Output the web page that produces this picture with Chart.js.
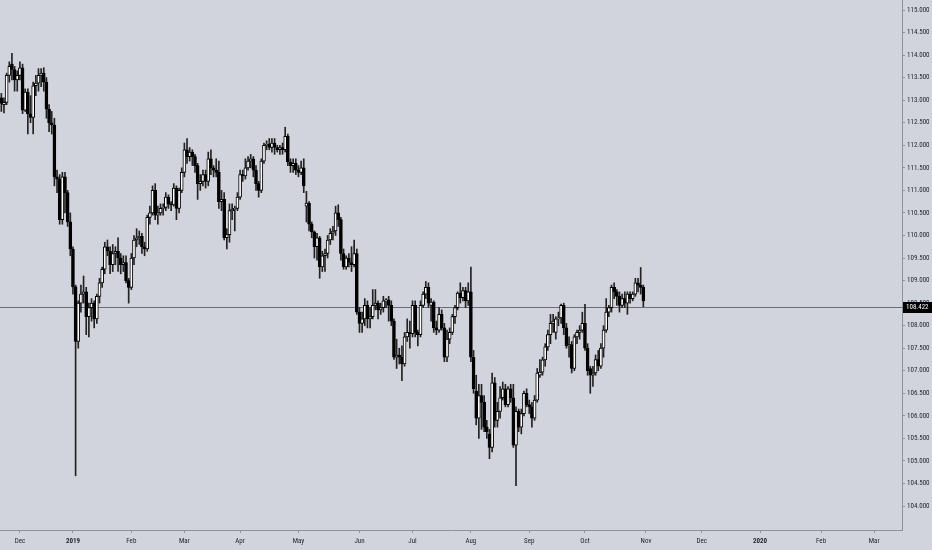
<!DOCTYPE html>
<html>
<head>
<meta charset="utf-8">
<script src="https://cdn.jsdelivr.net/npm/chart.js@4.4.0/dist/chart.umd.min.js"></script>
<style>
  html, body { margin: 0; padding: 0; background: #d1d4dc; }
  #wrap { width: 932px; height: 550px; }
</style>
</head>
<body>
<div id="wrap"><canvas id="chart" width="932" height="550"></canvas></div>
<script>
// daily candles, first bar 2018-11-22, one value per trading day
const opens = [
  113.05, 112.90, 112.95, 113.55, 113.80, 113.68, 113.45, 113.55, 113.72, 112.78,
  113.18, 112.70, 112.62, 113.32, 113.38, 113.55, 113.60, 113.40, 112.80, 112.50,
  112.45, 111.30, 111.25, 110.35, 111.30, 110.95, 110.30, 109.70, 108.86, 107.65,
  108.50, 108.70, 108.75, 108.20, 108.40, 108.50, 108.15, 108.65, 108.95, 109.25,
  109.75, 109.65, 109.35, 109.60, 109.65, 109.50, 109.35, 109.40, 109.00, 108.85,
  109.50, 109.90, 109.95, 109.98, 109.75, 109.70, 110.40, 110.50, 111.00, 110.45,
  110.50, 110.60, 110.62, 110.85, 110.70, 110.68, 111.05, 110.60, 111.00, 111.40,
  111.90, 111.75, 111.85, 111.75, 111.55, 111.15, 111.20, 111.35, 111.20, 111.70,
  111.50, 111.45, 111.40, 110.75, 110.80, 109.95, 110.02, 110.55, 110.58, 110.60,
  110.85, 111.35, 111.32, 111.50, 111.65, 111.70, 111.45, 111.15, 111.00, 111.65,
  112.00, 112.02, 111.95, 112.05, 111.95, 111.90, 111.95, 111.90, 112.20, 111.63,
  111.55, 111.60, 111.45, 111.40, 111.50, 110.65, 110.72, 110.25, 110.08, 109.75,
  109.95, 109.30, 109.55, 109.60, 109.90, 110.05, 110.10, 110.50, 110.35, 109.60,
  109.30, 109.50, 109.40, 109.35, 109.60, 108.30, 108.05, 108.15, 108.45, 108.15,
  108.20, 108.45, 108.50, 108.35, 108.40, 108.55, 108.57, 108.45, 108.10, 107.30,
  107.35, 107.30, 107.15, 107.75, 107.85, 107.82, 108.45, 107.85, 107.80, 108.45,
  108.70, 108.85, 108.45, 108.52, 107.95, 107.90, 108.25, 107.95, 107.30, 107.70,
  107.85, 108.20, 108.40, 108.72, 108.62, 108.78, 108.55, 108.75, 107.30, 106.55,
  105.95, 106.45, 106.30, 105.75, 105.60, 105.30, 106.73, 105.90, 106.10, 106.40,
  106.60, 106.25, 106.60, 106.40, 105.35, 106.10, 105.75, 106.05, 106.50, 106.25,
  106.20, 105.95, 106.35, 106.90, 106.97, 107.24, 107.53, 107.80, 108.05, 107.85,
  108.15, 108.17, 108.45, 107.95, 107.55, 107.58, 107.05, 107.75, 107.85, 107.90,
  108.05, 107.50, 107.05, 106.90, 106.95, 107.25, 107.10, 107.50, 107.90, 108.30,
  108.40, 108.85, 108.75, 108.65, 108.45, 108.60, 108.50, 108.70, 108.60, 108.70,
  108.95, 108.90, 108.85
];
const highs = [
  113.15, 113.05, 113.60, 113.85, 114.04, 113.75, 113.65, 113.85, 113.80, 113.25,
  113.25, 113.10, 113.40, 113.55, 113.70, 113.70, 113.72, 113.50, 112.90, 112.75,
  112.60, 111.45, 111.35, 111.40, 111.40, 111.00, 110.50, 109.75, 108.90, 108.55,
  108.90, 109.10, 108.85, 108.50, 108.60, 108.55, 108.70, 109.05, 109.30, 109.85,
  109.90, 109.75, 109.80, 109.75, 109.95, 109.60, 109.55, 109.55, 109.05, 109.60,
  110.00, 110.15, 110.10, 110.05, 109.85, 110.45, 110.65, 111.10, 111.15, 110.65,
  110.70, 110.70, 110.95, 110.90, 110.75, 111.15, 111.10, 111.05, 111.50, 112.05,
  112.15, 111.95, 111.90, 111.80, 111.60, 111.35, 111.45, 111.45, 111.85, 111.90,
  111.55, 111.70, 111.65, 111.00, 110.95, 110.15, 110.70, 110.70, 110.65, 110.95,
  111.45, 111.45, 111.70, 111.75, 111.80, 111.75, 111.55, 111.20, 111.70, 112.05,
  112.10, 112.15, 112.15, 112.15, 112.00, 112.00, 112.05, 112.40, 112.25, 111.70,
  111.70, 111.70, 111.55, 111.65, 111.70, 110.98, 110.75, 110.30, 110.10, 110.05,
  109.98, 109.65, 109.70, 110.00, 110.15, 110.20, 110.65, 110.68, 110.40, 109.70,
  109.55, 109.60, 109.75, 109.90, 109.70, 108.40, 108.30, 108.60, 108.55, 108.40,
  108.80, 108.80, 108.55, 108.50, 108.65, 108.60, 108.65, 108.55, 108.15, 107.70,
  107.50, 107.55, 107.85, 108.15, 108.10, 108.55, 108.55, 107.90, 108.55, 108.75,
  108.98, 108.95, 108.60, 108.55, 108.10, 108.40, 108.35, 108.05, 107.90, 107.95,
  108.25, 108.45, 108.75, 108.95, 108.85, 108.85, 108.95, 109.30, 107.45, 106.90,
  106.70, 106.70, 106.45, 105.90, 105.70, 106.95, 106.85, 106.30, 106.65, 106.75,
  106.70, 106.65, 106.70, 106.70, 106.20, 106.15, 106.15, 106.55, 106.60, 106.35,
  106.30, 106.45, 107.05, 107.25, 107.30, 107.60, 107.90, 108.25, 108.25, 108.20,
  108.30, 108.48, 108.50, 108.05, 107.75, 107.65, 107.80, 107.90, 108.00, 108.30,
  108.47, 107.60, 107.10, 107.10, 107.35, 107.45, 107.60, 108.00, 108.60, 108.45,
  108.90, 108.95, 108.80, 108.75, 108.70, 108.75, 108.75, 108.75, 108.75, 109.05,
  109.05, 109.29, 108.90
];
const lows = [
  112.75, 112.72, 112.90, 113.40, 113.45, 113.20, 113.20, 113.45, 112.70, 112.75,
  112.25, 112.50, 112.25, 113.10, 113.20, 113.30, 113.20, 112.60, 112.30, 112.25,
  111.10, 110.95, 110.25, 110.25, 110.50, 110.20, 109.55, 108.70, 104.67, 107.50,
  108.30, 108.50, 107.80, 107.75, 108.10, 107.95, 108.05, 108.50, 108.85, 109.15,
  109.55, 109.15, 109.20, 109.35, 109.20, 109.15, 109.20, 108.95, 108.50, 108.80,
  109.35, 109.75, 109.80, 109.60, 109.55, 109.65, 110.25, 110.45, 110.35, 110.25,
  110.45, 110.45, 110.55, 110.60, 110.55, 110.65, 110.35, 110.50, 110.95, 111.30,
  111.60, 111.65, 111.55, 111.40, 110.80, 111.00, 111.10, 111.05, 111.10, 111.35,
  111.30, 111.30, 110.60, 110.55, 109.90, 109.70, 109.85, 110.35, 110.10, 110.55,
  110.80, 111.20, 111.25, 111.45, 111.50, 111.30, 111.00, 110.85, 110.95, 111.60,
  111.90, 111.90, 111.85, 111.80, 111.85, 111.80, 111.80, 111.85, 111.55, 111.40,
  111.40, 111.35, 111.30, 111.35, 110.95, 110.30, 110.10, 109.95, 109.50, 109.45,
  109.05, 109.20, 109.20, 109.50, 109.80, 109.90, 110.00, 110.20, 109.45, 109.25,
  109.25, 109.30, 109.20, 109.30, 108.25, 107.85, 107.85, 108.00, 107.95, 107.95,
  108.15, 108.35, 108.15, 108.25, 108.30, 108.40, 108.10, 108.00, 107.25, 107.05,
  107.15, 106.78, 107.10, 107.65, 107.50, 107.75, 107.75, 107.55, 107.75, 108.40,
  108.60, 108.40, 108.10, 107.85, 107.80, 107.85, 107.90, 107.20, 107.20, 107.60,
  107.80, 108.05, 108.35, 108.50, 108.55, 108.40, 108.45, 107.20, 106.50, 105.80,
  105.50, 105.70, 105.65, 105.50, 105.05, 105.20, 105.75, 105.75, 105.95, 106.35,
  106.20, 106.20, 106.30, 105.30, 104.45, 105.65, 105.60, 106.00, 106.20, 106.05,
  105.75, 105.90, 106.30, 106.85, 106.90, 107.10, 107.45, 107.60, 107.85, 107.70,
  108.00, 108.05, 107.80, 107.50, 107.30, 106.95, 107.00, 107.60, 107.70, 107.85,
  107.45, 106.90, 106.50, 106.65, 106.90, 107.00, 107.05, 107.30, 107.85, 108.20,
  108.30, 108.60, 108.45, 108.30, 108.40, 108.40, 108.25, 108.50, 108.55, 108.65,
  108.75, 108.70, 108.42
];
const closes = [
  112.93, 112.95, 113.55, 113.75, 113.68, 113.45, 113.55, 113.72, 112.78, 113.18,
  112.70, 112.62, 113.32, 113.38, 113.55, 113.60, 113.40, 112.80, 112.50, 112.45,
  111.30, 111.25, 110.35, 111.30, 110.95, 110.30, 109.70, 108.86, 107.65, 108.50,
  108.70, 108.75, 108.20, 108.40, 108.50, 108.15, 108.65, 108.95, 109.25, 109.75,
  109.65, 109.35, 109.60, 109.65, 109.50, 109.35, 109.40, 109.00, 108.85, 109.50,
  109.90, 109.95, 109.98, 109.75, 109.70, 110.40, 110.50, 111.00, 110.45, 110.50,
  110.60, 110.62, 110.85, 110.70, 110.68, 111.05, 110.60, 111.00, 111.40, 111.90,
  111.75, 111.85, 111.75, 111.55, 111.15, 111.20, 111.35, 111.20, 111.70, 111.50,
  111.45, 111.40, 110.75, 110.80, 109.95, 110.02, 110.55, 110.58, 110.60, 110.85,
  111.35, 111.32, 111.50, 111.65, 111.70, 111.45, 111.15, 111.00, 111.65, 112.00,
  112.02, 111.95, 112.05, 111.95, 111.90, 111.95, 111.90, 112.20, 111.63, 111.55,
  111.60, 111.45, 111.40, 111.50, 111.10, 110.72, 110.25, 110.08, 109.75, 109.95,
  109.30, 109.55, 109.60, 109.90, 110.05, 110.10, 110.50, 110.35, 109.60, 109.30,
  109.50, 109.40, 109.35, 109.60, 108.30, 108.05, 108.15, 108.45, 108.15, 108.20,
  108.45, 108.50, 108.35, 108.40, 108.55, 108.57, 108.45, 108.10, 107.30, 107.35,
  107.30, 107.15, 107.75, 107.85, 107.82, 108.45, 107.85, 107.80, 108.45, 108.70,
  108.85, 108.50, 108.52, 107.95, 107.90, 108.25, 107.95, 107.30, 107.70, 107.85,
  108.20, 108.40, 108.72, 108.62, 108.78, 108.55, 108.75, 107.30, 106.60, 105.95,
  106.45, 106.30, 105.75, 105.65, 105.30, 106.73, 105.90, 106.10, 106.40, 106.60,
  106.25, 106.60, 106.40, 105.35, 106.10, 105.75, 106.05, 106.50, 106.25, 106.20,
  105.95, 106.35, 106.95, 106.97, 107.24, 107.53, 107.80, 108.05, 108.10, 108.15,
  108.17, 108.45, 107.95, 107.55, 107.58, 107.05, 107.75, 107.85, 107.90, 108.05,
  107.50, 107.00, 106.90, 106.95, 107.25, 107.10, 107.50, 107.90, 108.30, 108.40,
  108.85, 108.75, 108.65, 108.45, 108.60, 108.50, 108.70, 108.60, 108.70, 108.95,
  108.90, 108.85, 108.55
];

// axis settings
const firstDay = Date.UTC(2018, 10, 22);
const noBarDays = ['2018-12-25', '2019-01-01', '2019-07-04'];
const barCount = 340;           // bars visible incl. empty future space
const monthNames = ['Jan', 'Feb', 'Mar', 'Apr', 'May', 'Jun', 'Jul', 'Aug', 'Sep', 'Oct', 'Nov', 'Dec'];
const yTicks = [104, 104.5, 105, 105.5, 106, 106.5, 107, 107.5, 108, 108.5, 109,
                109.5, 110, 110.5, 111, 111.5, 112, 112.5, 113, 113.5, 114, 114.5, 115];
const yMin = 103.468;
const yMax = 115.222;
const lastPrice = 108.422;

const FONT = "'Roboto Condensed', 'DejaVu Sans Condensed', sans-serif";
const FONT_SIZE = 7;
const axisColor = '#8f929b';
const textColor = '#1e222d';

// trading-day calendar for the category axis
const days = [];
let d = new Date(firstDay);
while (days.length < barCount) {
  const iso = d.toISOString().slice(0, 10);
  const wd = d.getUTCDay();
  if (wd !== 0 && wd !== 6 && !noBarDays.includes(iso)) days.push(new Date(d));
  d.setUTCDate(d.getUTCDate() + 1);
}
const labels = days.map(x => x.toISOString().slice(0, 10));

function isMonthStart(i) {
  return i > 0 && days[i].getUTCMonth() !== days[i - 1].getUTCMonth();
}
function monthText(i) {
  const m = days[i].getUTCMonth();
  return m === 0 ? String(days[i].getUTCFullYear()) : monthNames[m];
}

const wicks = lows.map((l, i) => [l, highs[i]]);
const bodies = opens.map((o, i) => [Math.min(o, closes[i]), Math.max(o, closes[i])]);
const bodyFill = opens.map((o, i) => closes[i] >= o ? '#ffffff' : '#000000');

// no extra room for edge labels, the plot runs to the canvas edges
function noPad(s) {
  s.paddingTop = 0; s.paddingBottom = 0; s.paddingLeft = 0; s.paddingRight = 0;
}

const priceLine = {
  id: 'priceLine',
  beforeDatasetsDraw(chart) {
    const { ctx, chartArea } = chart;
    const y = Math.round(chart.scales.y.getPixelForValue(lastPrice)) + 0.5;
    ctx.save();
    ctx.strokeStyle = '#6a6d78';
    ctx.lineWidth = 1;
    ctx.beginPath();
    ctx.moveTo(chartArea.left, y);
    ctx.lineTo(chartArea.right, y);
    ctx.stroke();
    ctx.restore();
  },
  afterDraw(chart) {
    const { ctx, chartArea } = chart;
    const y = Math.round(chart.scales.y.getPixelForValue(lastPrice));
    ctx.save();
    ctx.fillStyle = '#000000';
    ctx.fillRect(chartArea.right + 1, y - 5, chart.width - chartArea.right - 1, 11);
    ctx.fillStyle = '#ffffff';
    ctx.font = FONT_SIZE + 'px ' + FONT;
    ctx.textBaseline = 'middle';
    ctx.textAlign = 'left';
    ctx.fillText(lastPrice.toFixed(3), chartArea.right + 4, y + 0.5);
    ctx.restore();
  }
};

new Chart(document.getElementById('chart').getContext('2d'), {
  type: 'bar',
  data: {
    labels: labels,
    datasets: [
      {
        label: 'wick',
        data: wicks,
        backgroundColor: '#222222',
        barThickness: 1,
        grouped: false,
        order: 2
      },
      {
        label: 'body',
        data: bodies,
        backgroundColor: bodyFill,
        borderColor: '#000000',
        borderWidth: 1,
        borderSkipped: false,
        barThickness: 3,
        minBarLength: 1,
        grouped: false,
        order: 1
      }
    ]
  },
  options: {
    responsive: false,
    animation: false,
    layout: { padding: 0 },
    plugins: {
      legend: { display: false },
      tooltip: { enabled: false }
    },
    scales: {
      x: {
        type: 'category',
        offset: true,
        grid: { display: true, offset: false, drawOnChartArea: false, drawTicks: true, tickLength: 3, color: axisColor },
        border: { display: true, color: axisColor },
        ticks: {
          autoSkip: false,
          maxRotation: 0,
          padding: 4,
          color: textColor,
          font: (c) => {
            const bold = c.tick && days[c.tick.value].getUTCMonth() === 0;
            return { family: FONT, size: FONT_SIZE, weight: bold ? 'bold' : 'normal' };
          },
          callback: (v) => monthText(v)
        },
        afterBuildTicks: (s) => { s.ticks = s.ticks.filter(t => isMonthStart(t.value)); },
        afterFit: (s) => { s.height = 20; noPad(s); }
      },
      y: {
        position: 'right',
        min: yMin,
        max: yMax,
        grid: { display: true, drawOnChartArea: false, drawTicks: true, tickLength: 3, color: axisColor },
        border: { display: true, color: axisColor },
        ticks: {
          padding: 2,
          color: textColor,
          font: { family: FONT, size: FONT_SIZE },
          callback: (v) => Number(v).toFixed(3)
        },
        afterBuildTicks: (s) => { s.ticks = yTicks.map(v => ({ value: v })); },
        afterFit: (s) => { s.width = 30; noPad(s); }
      }
    }
  },
  plugins: [priceLine]
});
</script>
</body>
</html>
